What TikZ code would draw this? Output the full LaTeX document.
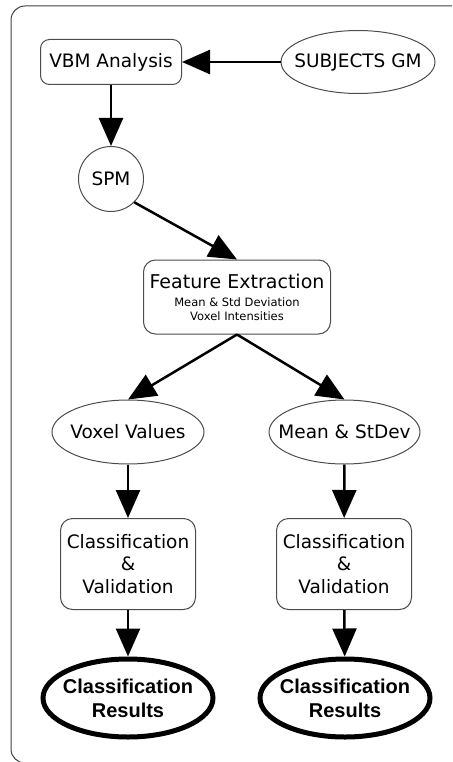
\documentclass[tikz,border=0pt]{standalone}
\usepackage{fontspec}
\setmainfont{DejaVu Sans}
\newfontfamily\resfont{Liberation Sans}
\usetikzlibrary{arrows.meta,shapes.geometric,positioning}
\tikzset{
  >={Triangle[length=28pt,width=24pt]},
  flow/.style={->,line width=2.5pt},
  box/.style={rectangle,rounded corners=12pt,draw=black!70,line width=1pt,align=center,inner sep=3pt,font=\fontsize{18.5}{22.5}\selectfont},
  oval/.style args={#1,#2}{ellipse,draw=black!70,line width=1pt,inner xsep=-20pt,inner ysep=0pt,minimum width=#1pt,minimum height=#2pt,align=center,font=\fontsize{18.5}{22.5}\selectfont},
  result/.style args={#1,#2}{oval={#1,#2},draw=black,line width=5pt,font=\resfont\bfseries\fontsize{20}{24}\selectfont},
  frame/.style={draw=black!75,line width=1pt,rounded corners=14pt}
}
\begin{document}
\begin{tikzpicture}[x=1pt,y=-1pt]
  \useasboundingbox (0,0) rectangle (452,762);
  \clip (0,0) rectangle (452,762);
  \draw[frame] (11,6) rectangle (490,763);

  \node [box,rounded corners=9pt,minimum width=141pt,minimum height=45pt] (vbm) at (111,62) {VBM Analysis};
  \node [oval={154,63}] (subj) at (358,62) {SUBJECTS GM};
  \node [box,circle,minimum size=65pt] (spm) at (111,179) {SPM};
  \node [box,minimum width=187pt,minimum height=74pt,font=\fontsize{11.5}{14}\selectfont] (feat) at (237,297)
        {{\fontsize{19}{22}\selectfont Feature Extraction}\\[4pt]Mean \& Std Deviation\\Voxel Intensities};

  \node [oval={152,64}] (vox) at (128,432) {Voxel Values};
  \node [oval={151,64},right=64pt of vox] (msd) {Mean \& StDev};

  \node [box,minimum width=135pt,minimum height=91pt] (cv1) at (128,564) {Classification\\\&\\Validation};
  \node [box,minimum width=135pt,minimum height=91pt] (cv2) at (344,564) {Classification\\\&\\Validation};

  \node [result={170,78}] (res1) at (128,698) {Classification\\Results};
  \node [result={170,78}] (res2) at (345,698) {Classification\\Results};

  \path (subj) edge [flow] (vbm)
        (vbm) edge [flow] (spm)
        (spm.south east) edge [flow] (feat.north)
        (feat.south) edge [flow] (vox.north)
        (feat.south) edge [flow] (msd.north)
        (vox) edge [flow] (cv1)
        (msd) edge [flow] (cv2)
        (cv1) edge [flow] (res1)
        (cv2) edge [flow] (res2);
\end{tikzpicture}
\end{document}
